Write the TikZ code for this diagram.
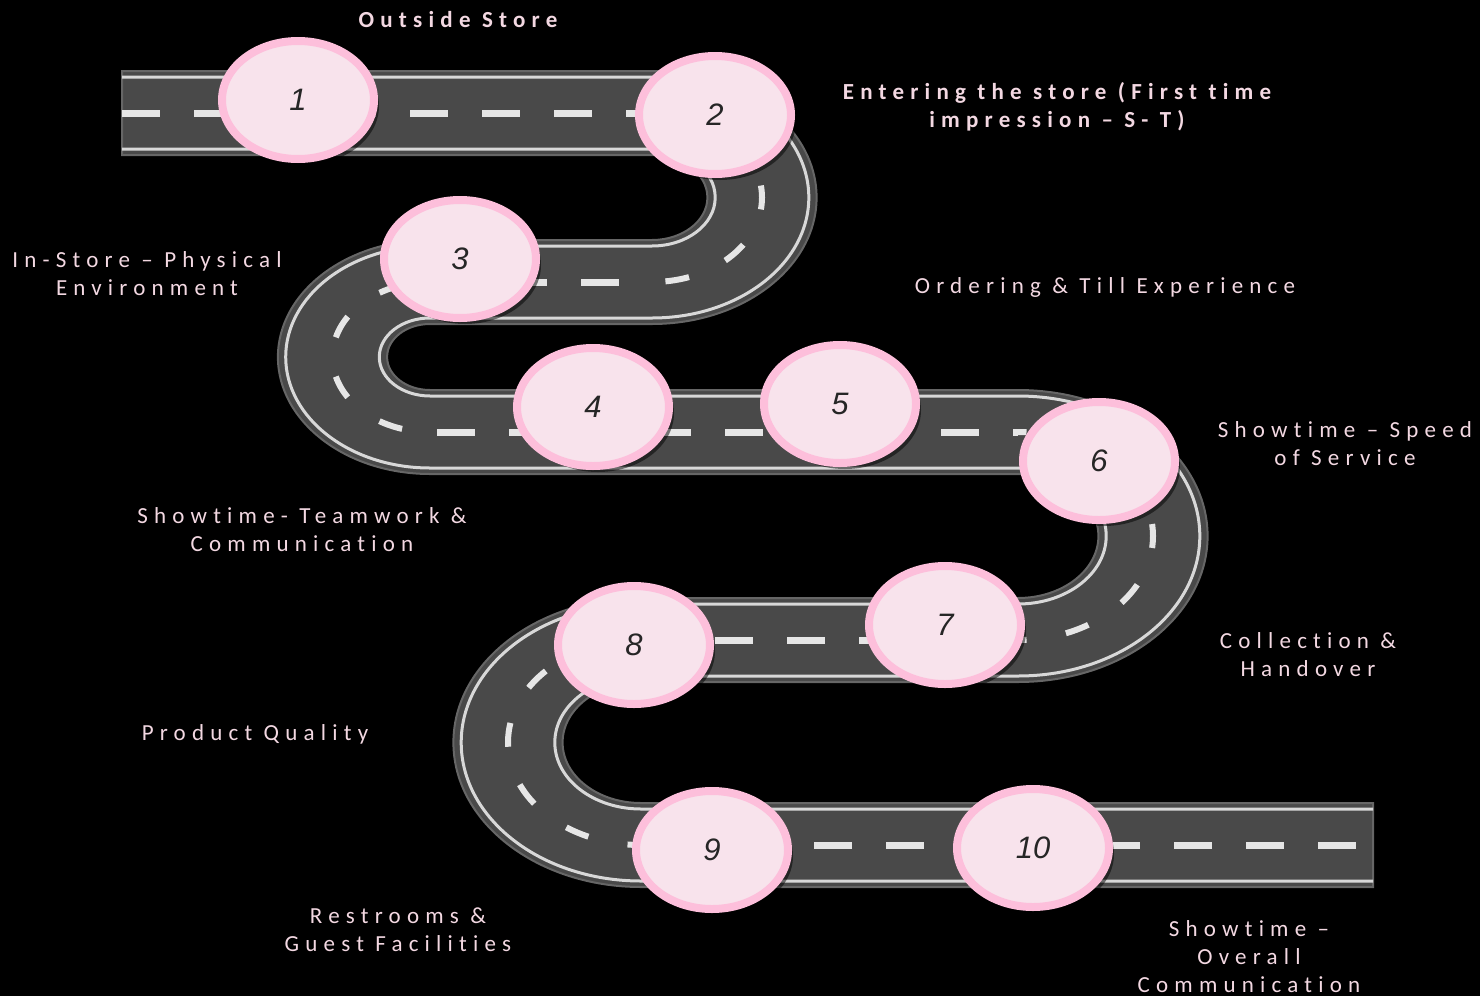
\documentclass[tikz,border=0pt]{standalone}
\usepackage{fontspec}
\setmainfont{Carlito}
\newfontfamily\labelfont[LetterSpace=27,Ligatures=CommonOff]{Carlito}
\newfontfamily\numfont{Liberation Sans}
\usetikzlibrary{shapes.geometric,shadows}

\definecolor{asphalt}{HTML}{494949}
\definecolor{roadrim}{HTML}{666666}
\definecolor{edgeline}{HTML}{D8D8D8}
\definecolor{lane}{HTML}{E6E6E6}
\definecolor{pinkring}{HTML}{FDBFDB}
\definecolor{pinkfill}{HTML}{F8E3EC}
\definecolor{labeltext}{HTML}{F3D8E2}
\definecolor{digit}{HTML}{262626}

\begin{document}
\begin{tikzpicture}[x=1pt,y=-1pt,
  stopmark/.style={ellipse, minimum width=152pt, minimum height=118pt,
    draw=pinkring, line width=8pt, fill=pinkfill, inner sep=0pt,
    text=digit, font=\numfont\itshape\fontsize{31}{31}\selectfont,
    drop shadow={shadow xshift=5pt, shadow yshift=-6pt, opacity=0.5, fill=black}},
  lbl/.style={text=labeltext, align=center, inner sep=0pt,
    font=\labelfont\fontsize{23}{28}\selectfont},
  edgestroke/.style={draw=edgeline, line width=3pt},
  straightlane/.style={draw=lane, line width=7pt, dash pattern=on 38pt off 34pt},
  curvelane/.style={draw=lane, line width=6pt, dash pattern=on 24pt off 40pt}]

% black page
\fill[black] (0,0) rectangle (1480,996);
\useasboundingbox (0,0) rectangle (1480,996);

% asphalt band of the winding road
\path[fill=asphalt, draw=roadrim, line width=2pt]
  (122,71) -- (652,71)
  arc[start angle=-90, end angle=90, x radius=164.6, y radius=126.5]
  -- (430,324)
  arc[start angle=-90, end angle=-270, x radius=42.9, y radius=33]
  -- (1018,390)
  arc[start angle=-90, end angle=90, x radius=189.6, y radius=146]
  -- (641,682)
  arc[start angle=-90, end angle=-270, x radius=78.4, y radius=60.5]
  -- (1373,803) -- (1373,887) -- (641,887)
  arc[start angle=90, end angle=270, x radius=187.6, y radius=144.5]
  -- (1018,598)
  arc[start angle=90, end angle=-90, x radius=80.4, y radius=62]
  -- (430,474)
  arc[start angle=90, end angle=270, x radius=152.1, y radius=117]
  -- (652,240)
  arc[start angle=90, end angle=-90, x radius=55.4, y radius=42.5]
  -- (122,155) -- cycle;

% white edge lines
\draw[edgestroke]
  (122,77) -- (652,77)
  arc[start angle=-90, end angle=90, x radius=156.8, y radius=120.5]
  -- (430,318)
  arc[start angle=-90, end angle=-270, x radius=50.7, y radius=39]
  -- (1018,396)
  arc[start angle=-90, end angle=90, x radius=181.8, y radius=140]
  -- (641,676)
  arc[start angle=-90, end angle=-270, x radius=86.2, y radius=66.5]
  -- (1373,809);
\draw[edgestroke]
  (122,149) -- (652,149)
  arc[start angle=-90, end angle=90, x radius=63.2, y radius=48.5]
  -- (430,246)
  arc[start angle=-90, end angle=-270, x radius=144.3, y radius=111]
  -- (1018,468)
  arc[start angle=-90, end angle=90, x radius=88.2, y radius=68]
  -- (641,604)
  arc[start angle=-90, end angle=-270, x radius=179.8, y radius=138.5]
  -- (1373,881);

% dashed centre line: straights
\draw[straightlane] (122,113) -- (652,113);
\draw[straightlane, dash phase=65pt] (430,282) -- (652,282);
\draw[straightlane, dash phase=65pt] (430,432) -- (1018,432);
\draw[straightlane, dash phase=70pt] (641,640) -- (1018,640);
\draw[straightlane, dash phase=43pt] (641,845) -- (1373,845);
% dashed centre line: bends
\draw[curvelane, dash phase=50.6pt] (652,113)
  arc[start angle=-90, end angle=90, x radius=110, y radius=84.5];
\draw[curvelane, dash phase=36pt] (430,282)
  arc[start angle=-90, end angle=-270, x radius=97.5, y radius=75];
\draw[curvelane, dash phase=15.5pt] (1018,432)
  arc[start angle=-90, end angle=90, x radius=135, y radius=104];
\draw[curvelane, dash phase=26pt] (641,640)
  arc[start angle=-90, end angle=-270, x radius=133, y radius=102.5];

% numbered stops
\node[stopmark] (s1) at (298,100) {1};
\node[stopmark] (s2) at (715,115) {2};
\node[stopmark] (s3) at (460,259) {3};
\node[stopmark] (s4) at (593,407) {4};
\node[stopmark] (s5) at (840,404) {5};
\node[stopmark] (s6) at (1099,461) {6};
\node[stopmark] (s7) at (945,625) {7};
\node[stopmark] (s8) at (634,645) {8};
\node[stopmark] (s9) at (712,850) {9};
\node[stopmark] (s10) at (1033,848) {10};

% stage labels
\node[lbl, anchor=base] (t1) at (458,27) {\bfseries Outside Store};
\node[lbl] (t2) at (1057,106.5) {\bfseries Entering the store (First time\\\bfseries impression – S- T)};
\node[lbl] (t3) at (147,273.5) {In-Store – Physical\\Environment};
\node[lbl, anchor=base] (t4) at (1105,293) {Ordering \& Till Experience};
\node[lbl] (t5) at (1345,443.5) {Showtime – Speed\\of Service};
\node[lbl] (t6) at (302,529.5) {Showtime- Teamwork \&\\Communication};
\node[lbl] (t7) at (1308,654.5) {Collection \&\\Handover};
\node[lbl, anchor=base] (t8) at (255,740) {Product Quality};
\node[lbl] (t9) at (398,929.5) {Restrooms \&\\Guest Facilities};
\node[lbl] (t10) at (1249,957) {Showtime –\\Overall\\Communication};

\end{tikzpicture}
\end{document}
